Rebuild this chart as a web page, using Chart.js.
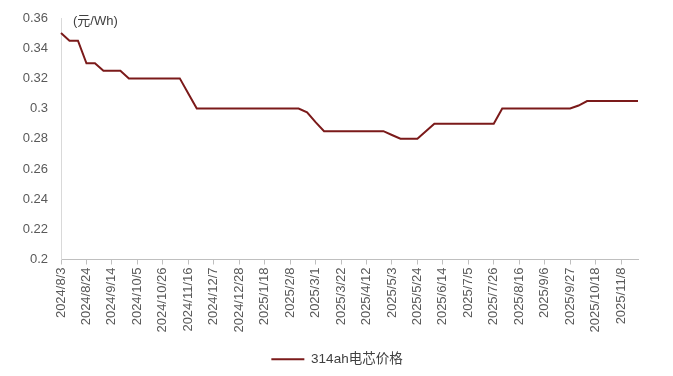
<!DOCTYPE html>
<html>
<head>
<meta charset="utf-8">
<script src="https://cdn.jsdelivr.net/npm/chart.js@4"></script>
<style>
html,body{margin:0;padding:0;background:#fff;}
#wrap{width:673px;height:376px;position:relative;}
</style>
</head>
<body>
<div id="wrap"><canvas id="c" width="673" height="376"></canvas></div>
<script>
const categories = [
"2024/8/3","2024/8/10","2024/8/17","2024/8/24","2024/8/31","2024/9/7","2024/9/14","2024/9/21","2024/9/28",
"2024/10/5","2024/10/12","2024/10/19","2024/10/26","2024/11/2","2024/11/9","2024/11/16","2024/11/23","2024/11/30",
"2024/12/7","2024/12/14","2024/12/21","2024/12/28","2025/1/4","2025/1/11","2025/1/18","2025/1/25","2025/2/1",
"2025/2/8","2025/2/15","2025/2/22","2025/3/1","2025/3/8","2025/3/15","2025/3/22","2025/3/29","2025/4/5",
"2025/4/12","2025/4/19","2025/4/26","2025/5/3","2025/5/10","2025/5/17","2025/5/24","2025/5/31","2025/6/7",
"2025/6/14","2025/6/21","2025/6/28","2025/7/5","2025/7/12","2025/7/19","2025/7/26","2025/8/2","2025/8/9",
"2025/8/16","2025/8/23","2025/8/30","2025/9/6","2025/9/13","2025/9/20","2025/9/27","2025/10/4","2025/10/11",
"2025/10/18","2025/10/25","2025/11/1","2025/11/8","2025/11/15","2025/11/22"
];
const price314ah = [
0.35,0.345,0.345,0.33,0.33,0.325,0.325,0.325,0.32,
0.32,0.32,0.32,0.32,0.32,0.32,0.31,0.30,0.30,
0.30,0.30,0.30,0.30,0.30,0.30,0.30,0.30,0.30,
0.30,0.30,0.2975,0.291,0.285,0.285,0.285,0.285,0.285,
0.285,0.285,0.285,0.2825,0.28,0.28,0.28,0.285,0.29,
0.29,0.29,0.29,0.29,0.29,0.29,0.29,0.30,0.30,
0.30,0.30,0.30,0.30,0.30,0.30,0.30,0.302,0.305,
0.305,0.305,0.305,0.305,0.305,0.305
];
const seriesName = "314ah电芯价格";
const unitLabel = "(元/Wh)";
const yTicks = {min:0.2, max:0.36, step:0.02};
const labelEvery = 3;

const fam = "'Liberation Sans', Arial, 'Noto Sans CJK SC', sans-serif";
const font = {family:fam, size:13};
const textColor = '#595959';

const unitPlugin = {
  id:'unit',
  afterLayout(chart){
    // centre the legend under the plot like the original
    if (chart.legend) { chart.legend.left += 18; chart.legend.right += 18; }
  },
  afterDraw(chart){
    const ctx = chart.ctx;
    ctx.save();
    ctx.font = "13px " + fam;
    ctx.fillStyle = '#404040';
    ctx.textBaseline = 'middle';
    ctx.textAlign = 'left';
    ctx.fillText(unitLabel, chart.chartArea.left + 12, 21);
    ctx.restore();
  }
};

new Chart(document.getElementById('c'), {
  type:'line',
  data:{
    labels:categories,
    datasets:[{
      label:seriesName,
      data:price314ah,
      borderColor:'#7b1a1a',
      backgroundColor:'#7b1a1a',
      borderWidth:2,
      pointRadius:0,
      tension:0,
      fill:false
    }]
  },
  options:{
    responsive:false,
    animation:false,
    layout:{padding:{top:18,right:35,left:0,bottom:0}},
    plugins:{
      legend:{
        position:'bottom',
        labels:{
          usePointStyle:true,
          pointStyle:'line',
          pointStyleWidth:33,
          color:'#404040',
          font:{family:fam, size:13.5},
          padding:9
        }
      },
      tooltip:{enabled:false}
    },
    scales:{
      x:{
        type:'category',
        offset:false,
        afterFit(s){ s.height = 84; },
        grid:{
          display:true,
          drawOnChartArea:false,
          drawTicks:true,
          tickLength:5,
          color:'#bfbfbf'
        },
        border:{display:true,color:'#bfbfbf',width:1},
        ticks:{
          autoSkip:false,
          maxRotation:90,
          minRotation:90,
          padding:3,
          color:textColor,
          font:font,
          callback(v,i){ return i % labelEvery === 0 ? categories[i] : null; }
        }
      },
      y:{
        min:yTicks.min,
        max:yTicks.max,
        afterFit(s){ s.width = 61; },
        grid:{display:false},
        border:{display:true,color:'#d9d9d9',width:1},
        ticks:{
          stepSize:yTicks.step,
          padding:5,
          color:textColor,
          font:font,
          callback(v){ return String(Number(v.toFixed(2))); }
        }
      }
    }
  },
  plugins:[unitPlugin]
});
</script>
</body>
</html>
